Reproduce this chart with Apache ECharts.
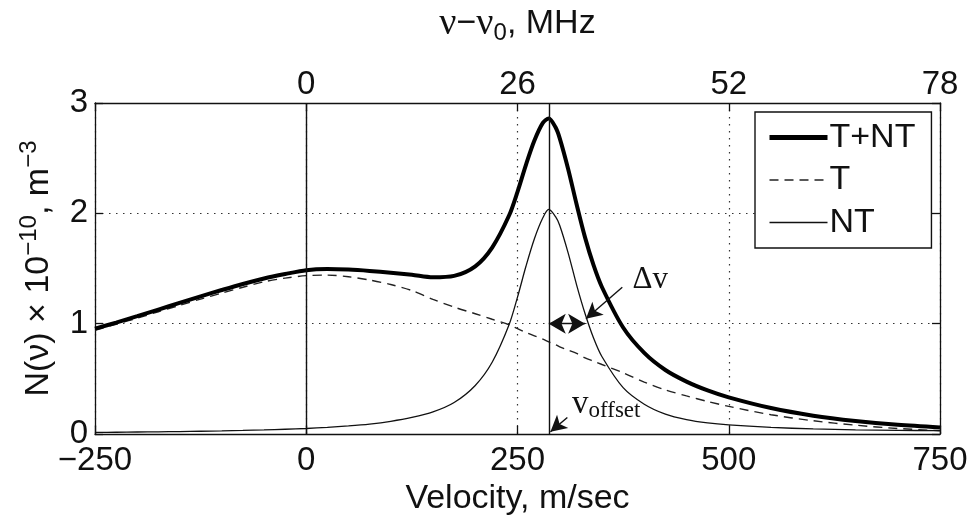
<!DOCTYPE html>
<html>
<head>
<meta charset="utf-8">
<script src="https://cdn.jsdelivr.net/npm/echarts@6/dist/echarts.min.js"></script>
<style>
  html, body { margin: 0; padding: 0; background: #fff; }
  #chart { width: 972px; height: 521px; }
</style>
</head>
<body>
<div id="chart"></div>
<script>
// Velocity samples, m/sec
const velocity = [-250, -225, -200, -175, -150, -125, -100, -75, -50, -25,
  0, 25, 50, 75, 100, 125, 150, 175, 200,
  220, 240, 250, 260, 270, 280, 287, 295,
  300, 310, 320, 330, 340, 350,
  375, 400, 425, 450, 475, 500,
  550, 600, 650, 700, 750];

// Thermal component (T), x 10^10 m^-3
const thermal = [0.94, 0.995, 1.05, 1.108, 1.166, 1.223, 1.277, 1.33, 1.38, 1.413,
  1.435, 1.44, 1.425, 1.395, 1.355, 1.30, 1.22, 1.15, 1.09,
  1.04, 0.99, 0.955, 0.92, 0.89, 0.86, 0.835, 0.81,
  0.79, 0.76, 0.73, 0.69, 0.66, 0.63,
  0.555, 0.47, 0.40, 0.345, 0.295, 0.25,
  0.175, 0.12, 0.08, 0.05, 0.03];

// Non-thermal component (NT)
const nonThermal = [0.015, 0.016, 0.018, 0.02, 0.022, 0.025, 0.028, 0.032, 0.037, 0.043,
  0.05, 0.06, 0.073, 0.09, 0.115, 0.15, 0.2, 0.285, 0.44,
  0.65, 0.99, 1.24, 1.52, 1.77, 1.96, 2.035, 1.97,
  1.89, 1.64, 1.35, 1.09, 0.87, 0.70,
  0.42, 0.27, 0.18, 0.13, 0.10, 0.082,
  0.06, 0.046, 0.038, 0.033, 0.03];

// Total distribution (T+NT)
const total = [0.955, 1.01, 1.068, 1.128, 1.188, 1.248, 1.305, 1.36, 1.41, 1.45,
  1.485, 1.495, 1.49, 1.478, 1.462, 1.443, 1.42, 1.433, 1.52,
  1.69, 1.98, 2.195, 2.44, 2.66, 2.82, 2.86, 2.78,
  2.68, 2.40, 2.08, 1.78, 1.53, 1.33,
  0.965, 0.735, 0.58, 0.475, 0.395, 0.332,
  0.235, 0.166, 0.118, 0.083, 0.06];

// Axis ticks
const velocityTicks = { min: -250, max: 750, step: 250 };
const freqTicks = { min: -26, max: 78, step: 26 };
const densityTicks = { min: 0, max: 3, step: 1 };

// Annotation positions in data units
const vOffset = 287;
const deltaV = { from: 287, to: 330, level: 1 };
const deltaLabel = [407, 1.40];
const deltaPointer = { tail: [374, 1.33], head: [331, 1.045] };
const offsetLabel = [355, 0.27];
const offsetPointer = { tail: [309, 0.15], head: [289, 0.02] };

const pairs = (ys) => velocity.map((x, i) => [x, ys[i]]);
const minusSign = (v) => String(v).replace('-', '\u2212');

const SANS = 'Liberation Sans, Arial, Helvetica, sans-serif';
const SERIF = 'Liberation Serif, Times New Roman, serif';
const INK = '#111';

const dotted = { type: [1.5, 5.5], color: '#333', width: 1.2 };
const axisLine = { show: true, onZero: false, lineStyle: { color: INK, width: 1.3 } };
const tickIn = { show: true, inside: true, length: 8, lineStyle: { color: INK, width: 1.3 } };

const chart = echarts.init(document.getElementById('chart'), null, { renderer: 'canvas' });

chart.setOption({
  animation: false,
  backgroundColor: '#fff',
  grid: { left: 95, right: 32, top: 103, bottom: 82, show: false },
  legend: {
    data: [
      { name: 'T+NT', lineStyle: { width: 5, color: '#000' } },
      { name: 'T', lineStyle: { width: 1.4, color: '#222', type: [9, 6] } },
      { name: 'NT', lineStyle: { width: 1.4, color: INK } }
    ],
    orient: 'vertical',
    left: 755,
    top: 112,
    itemWidth: 58,
    itemHeight: 14,
    itemGap: 8.5,
    padding: [8.5, 16, 8.5, 12],
    backgroundColor: '#fff',
    borderColor: INK,
    borderWidth: 1.4,
    borderRadius: 0,
    itemStyle: { color: 'rgba(0,0,0,0)', borderWidth: 0, opacity: 0 },
    textStyle: { fontFamily: SANS, fontSize: 34, color: INK, lineHeight: 33, padding: [0, 0, 0, -3] }
  },
  xAxis: [
    {
      type: 'value',
      position: 'bottom',
      min: velocityTicks.min, max: velocityTicks.max, interval: velocityTicks.step,
      axisLine: axisLine,
      axisTick: tickIn,
      axisLabel: { fontFamily: SANS, fontSize: 33, color: INK, margin: 10, formatter: minusSign },
      splitLine: { show: true, lineStyle: dotted },
      name: 'Velocity, m/sec',
      nameLocation: 'middle',
      nameGap: 48,
      nameTextStyle: { fontFamily: SANS, fontSize: 34, color: INK }
    },
    {
      type: 'value',
      position: 'top',
      min: freqTicks.min, max: freqTicks.max, interval: freqTicks.step,
      axisLine: axisLine,
      axisTick: tickIn,
      axisLabel: {
        fontFamily: SANS, fontSize: 33, color: INK, margin: 2,
        formatter: (v) => (v === freqTicks.min ? '' : String(v))
      },
      splitLine: { show: false },
      name: '{nu|ν}{m|−}{nu|ν}{sub|0}{m|, MHz}',
      nameLocation: 'middle',
      nameGap: 58,
      nameTextStyle: {
        color: INK,
        rich: {
          m: { fontFamily: SANS, fontSize: 34, color: INK },
          nu: { fontFamily: SERIF, fontSize: 38, color: INK },
          sub: { fontFamily: SANS, fontSize: 24, color: INK, padding: [18, 0, 0, 0] }
        }
      }
    }
  ],
  yAxis: [
    {
      type: 'value',
      position: 'left',
      min: densityTicks.min, max: densityTicks.max, interval: densityTicks.step,
      axisLine: axisLine,
      axisTick: tickIn,
      axisLabel: { fontFamily: SANS, fontSize: 33, color: INK, margin: 7 },
      splitLine: { show: true, lineStyle: dotted },
      name: '{m|N(ν) × 10}{sup|−10}{m|, m}{sup|−3}',
      nameLocation: 'middle',
      nameRotate: 90,
      nameGap: 34,
      nameTextStyle: {
        color: INK,
        rich: {
          m: { fontFamily: SANS, fontSize: 34, color: INK },
          sup: { fontFamily: SANS, fontSize: 24, color: INK, padding: [0, 0, 20, 0] }
        }
      }
    },
    {
      type: 'value',
      position: 'right',
      min: densityTicks.min, max: densityTicks.max, interval: densityTicks.step,
      axisLine: axisLine,
      axisTick: tickIn,
      axisLabel: { show: false },
      splitLine: { show: false }
    }
  ],
  series: [
    {
      name: 'T+NT',
      type: 'line',
      data: pairs(total),
      symbol: 'none',
      smooth: 0.3,
      lineStyle: { color: '#000', width: 4 },
      itemStyle: { color: '#000' },
      z: 4
    },
    {
      name: 'T',
      type: 'line',
      data: pairs(thermal),
      symbol: 'none',
      smooth: 0.3,
      lineStyle: { color: '#222', width: 1.4, type: [9, 6] },
      itemStyle: { color: '#222' },
      z: 3
    },
    {
      name: 'NT',
      type: 'line',
      data: pairs(nonThermal),
      symbol: 'none',
      smooth: 0.3,
      lineStyle: { color: INK, width: 1.3 },
      itemStyle: { color: INK },
      z: 3,
      markLine: {
        silent: true,
        symbol: ['none', 'none'],
        label: { show: false },
        lineStyle: { color: INK, width: 1.4, type: 'solid' },
        data: [
          { xAxis: 0 },
          { xAxis: vOffset },
          [
            { coord: [deltaV.from, deltaV.level], symbol: 'arrow', symbolSize: [15, 17] },
            { coord: [deltaV.to, deltaV.level], symbol: 'arrow', symbolSize: [15, 17] }
          ],
          [
            { coord: deltaPointer.tail, symbol: 'none' },
            { coord: deltaPointer.head, symbol: 'arrow', symbolSize: [13, 16] }
          ],
          [
            { coord: offsetPointer.tail, symbol: 'none' },
            { coord: offsetPointer.head, symbol: 'arrow', symbolSize: [13, 16] }
          ]
        ]
      },
      markPoint: {
        silent: true,
        symbol: 'circle',
        symbolSize: 0,
        data: [
          {
            coord: deltaLabel,
            label: {
              show: true, position: 'inside',
              formatter: 'Δv',
              fontFamily: SERIF, fontSize: 31, color: INK
            }
          },
          {
            coord: offsetLabel,
            label: {
              show: true, position: 'inside',
              formatter: '{v|v}{s|offset}',
              rich: {
                v: { fontFamily: SERIF, fontSize: 33, color: INK },
                s: { fontFamily: SERIF, fontSize: 23, color: INK, padding: [14, 0, 0, 0] }
              }
            }
          }
        ]
      }
    }
  ]
});
</script>
</body>
</html>
